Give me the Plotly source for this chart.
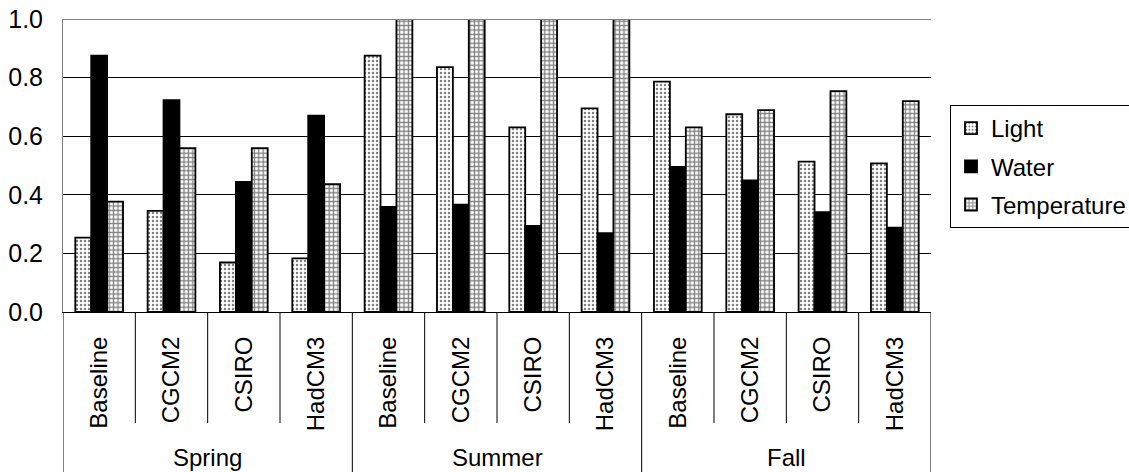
import plotly.graph_objects as go

seasons = ["Spring", "Summer", "Fall"]
models = ["Baseline", "CGCM2", "CSIRO", "HadCM3"]
light = [0.254, 0.345, 0.169, 0.183, 0.875, 0.836, 0.630, 0.695, 0.786, 0.675, 0.513, 0.507]
water = [0.875, 0.723, 0.444, 0.670, 0.359, 0.366, 0.294, 0.269, 0.495, 0.449, 0.341, 0.288]
temperature = [0.377, 0.559, 0.559, 0.436, 1.0, 1.0, 1.0, 1.0, 0.630, 0.689, 0.754, 0.720]
y_ticks = [0.0, 0.2, 0.4, 0.6, 0.8, 1.0]

FONT = "Liberation Sans, Arial, sans-serif"
n = len(seasons) * len(models)
xs = list(range(n))
labels = [m for _ in seasons for m in models]

fig = go.Figure()
fig.add_trace(go.Bar(x=xs, y=light, name="Light", legendgroup="a",
                     marker=dict(color="white", line=dict(color="black", width=1.8),
                                 pattern=dict(shape=".", fgcolor="black", bgcolor="white",
                                              size=4, solidity=0.3))))
fig.add_trace(go.Bar(x=xs, y=water, name="Water", legendgroup="b",
                     marker=dict(color="black", line=dict(color="black", width=1.8))))
fig.add_trace(go.Bar(x=xs, y=temperature, name="Temperature", legendgroup="c",
                     marker=dict(color="white", line=dict(color="black", width=1.8),
                                 pattern=dict(shape="+", fgcolor="black", bgcolor="white",
                                              size=4.4, solidity=0.5))))

plot_h = 472 - 19 - 160
shapes = []
for i in range(n + 1):
    is_group = (i % len(models) == 0)
    y1 = -160 / plot_h if is_group else -111 / plot_h
    shapes.append(dict(type="line", xref="x", yref="paper", x0=i - 0.5, x1=i - 0.5,
                       y0=0, y1=y1, line=dict(color="black", width=1)))
shapes.append(dict(type="line", xref="paper", yref="y", x0=0, x1=1, y0=1, y1=1,
                   line=dict(color="#808080", width=2)))

annotations = []
for g, s in enumerate(seasons):
    annotations.append(dict(x=g * len(models) + (len(models) - 1) / 2, xref="x",
                            y=-(457 - 311.7) / plot_h, yref="paper", text=s, showarrow=False,
                            font=dict(family=FONT, size=24, color="black"),
                            xanchor="center", yanchor="middle"))

fig.update_layout(
    width=1129, height=472,
    margin=dict(l=63, r=198, t=19, b=160),
    paper_bgcolor="white", plot_bgcolor="white",
    barmode="group", bargap=0.34, bargroupgap=0,
    font=dict(family=FONT, size=24, color="black"),
    shapes=shapes, annotations=annotations,
    legend=dict(xref="container", yref="container", x=950 / 1129, y=1 - 105 / 472,
                xanchor="left", yanchor="top",
                bordercolor="black", borderwidth=1, traceorder="grouped",
                tracegroupgap=4, itemwidth=30,
                font=dict(family=FONT, size=24, color="black")),
    xaxis=dict(range=[-0.5, n - 0.5], tickvals=xs, ticktext=labels, tickangle=-90,
               showgrid=False, zeroline=False, showline=True, linecolor="black",
               linewidth=1, ticks="", ticklabelstandoff=14, automargin=False,
               tickfont=dict(family=FONT, size=24, color="black")),
    yaxis=dict(range=[0, 1], tickvals=y_ticks, tickformat=".1f", showgrid=True,
               gridcolor="black", gridwidth=1, zeroline=False, showline=True,
               linecolor="#808080", linewidth=1, ticks="", ticklabelstandoff=14,
               automargin=False,
               tickfont=dict(family=FONT, size=25, color="black")),
)

fig.write_html("out.html")
